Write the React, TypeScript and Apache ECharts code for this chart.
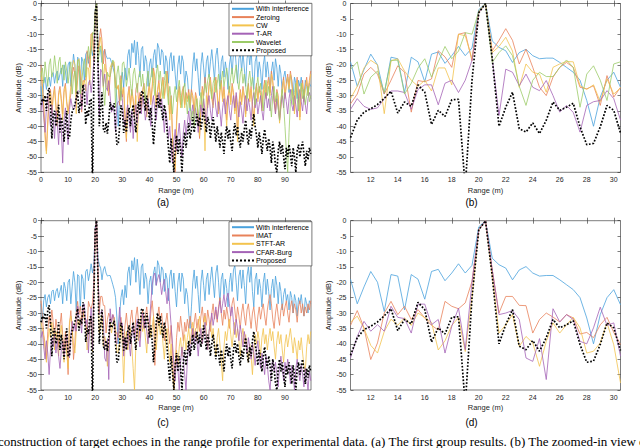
import React, { useEffect, useRef } from "react";
import * as echarts from "echarts";

// x sampling (m)
const STEP = 0.5;
const PRE_START = 0;
const ZOOM_START = 10.5;
const POST_START = 31;

// ---------- With interference (shared by (a)-(d)) ----------
const interfPre = [-27, -33, -26, -24, -28, -25, -24, -27, -23, -22.5, -26, -23, -22, -25, -23, -21, -27, -20, -22, -26, -20];
const interfZoom = [
  -19, -27, -21.5, -16.5, -20, -29.5, -17.5, -18, -29, -17.5, -19, -25.5, -16.5, -15.8, -19.5, -17, -14, -17, -14.5, -2, 0,
  -12.2, -14.3, -15.4, -19.2, -16, -14.9, -17, -18, -17.8, -17.8, -19.2, -20.8, -22.4, -25, -31.6, -40, -30.5, -25, -22.4, -27.3,
];
const interfPost = [
  -21, -25, -17, -15, -21, -13, -16, -12, -20, -12.5,
  -17, -24, -15, -14, -22, -17, -19, -27, -20, -18,
  -24, -17, -15, -21, -13, -14.5, -20, -15, -16, -23,
  -17, -19, -26, -18, -16, -22, -17, -23, -28, -20,
  -17, -23, -17, -19, -27, -22, -24, -30, -35, -28,
  -20, -16, -22, -18, -24, -30, -20, -16, -21, -26,
  -19, -17, -24, -19, -15, -20, -25, -17, -14.5, -20,
  -27, -19, -17, -24, -19, -22, -28, -20, -17, -23,
  -16, -14.5, -20, -26, -18, -16, -22, -16, -21, -27,
  -18, -15, -20, -15, -23, -28, -19, -17, -24, -19,
  -22, -28, -20, -17, -24, -19, -23, -29, -22, -19,
  -25, -18, -21, -27, -20, -23, -29, -24, -22, -26,
  -24, -29, -23, -25, -30, -24, -26, -31, -25, -27,
  -24, -28, -31, -25, -27, -30, -26, -27,
];

// ---------- Proposed (shared) ----------
const proposedPre = [-33, -31, -32, -30, -35, -29, -27.5, -33, -44, -36, -35, -40, -38, -33, -42, -37, -40, -45, -39, -35, -44];
const proposedZoom = [
  -43.7, -38, -35.4, -34.3, -32.9, -30.9, -28.6, -35.7, -32.1, -33.5, -26.5, -28.9, -39.4, -34.8, -36.8, -31.4, -31.2, -60, -25, -3, 0,
  -18, -40, -33.8, -28.9, -40.8, -41.9, -38.9, -42.4, -38, -32.1, -34.8, -33.8, -32.5, -40.2, -46, -45.6, -40.2, -33.2, -34.8, -42.2,
];
const proposedPost = [
  -38, -42, -36, -34, -40, -36, -33, -38, -42, -35,
  -32, -36, -29, -28.5, -31, -35, -30, -33, -38, -34,
  -39, -46, -40, -33, -30, -34, -31, -35, -38, -33,
  -36, -41, -47, -52, -44, -49, -55, -47, -43, -49,
  -44, -48, -55, -46, -42, -47, -43, -39, -44, -41,
  -37, -42, -39, -36, -40, -37, -41, -38, -34, -38,
  -42, -37, -39, -44, -40, -37, -41, -45, -40, -43,
  -47, -42, -45, -49, -43, -40, -44, -41, -45, -48,
  -42, -39, -43, -40, -44, -47, -42, -45, -41, -38,
  -43, -46, -41, -44, -39, -36, -40, -43, -47, -42,
  -45, -49, -44, -41, -45, -48, -44, -47, -52, -45,
  -48, -53, -55, -48, -45, -49, -46, -50, -54, -47,
  -50, -46, -49, -53, -47, -50, -55, -48, -46, -50,
  -47, -45, -49, -53, -48, -51, -47, -49,
];

// ---------- Zeroing ----------
const zeroingPre = [-20, -26, -33, -42, -48, -38, -30, -28, -35, -30, -27, -33, -38, -29, -27, -31, -36, -28, -26, -32, -35];
const zeroingZoom = [
  -32.7, -29.5, -23, -20.8, -23, -29.5, -25, -20.3, -22.4, -35.4, -25.1, -25.5, -24.6, -15.4, -17.4, -20.8, -10, -9.5, -18.7, -2.5, 0,
  -15.4, -12, -8.2, -12, -19.7, -14.9, -20.8, -27.3, -30, -24, -20.8, -19.2, -20.8, -27.3, -27.8, -26.8, -33.2, -23.5, -30.5, -27.3,
];
const zeroingPost = [
  -38, -45, -30, -27, -33, -28, -31, -36, -28, -26,
  -32, -29, -34, -28, -26, -31, -36, -29, -26, -32,
  -27, -21, -24, -33, -28, -25, -31, -27, -24, -30,
  -26, -22, -29, -36, -30, -42, -50, -55, -38, -30,
  -27, -33, -29, -27, -33, -29, -31, -28, -33, -28,
  -30, -35, -29, -31, -38, -44, -33, -27, -30, -24,
  -28, -33, -26, -24, -30, -33, -27, -24, -29, -35,
  -28, -25, -31, -27, -33, -38, -30, -27, -32, -26,
  -29, -35, -30, -42, -33, -28, -32, -27, -30, -36,
  -29, -26, -31, -27, -33, -38, -29, -26, -31, -27,
  -29, -34, -28, -25, -30, -26, -24, -29, -22, -25,
  -31, -35, -28, -30, -38, -33, -27, -24, -30, -26,
  -23, -27, -22, -25, -30, -35, -27, -24, -29, -37,
  -28, -25, -31, -27, -24, -29, -25, -22,
];

// ---------- CW ----------
const cwPre = [-22, -27, -34, -44, -49, -40, -31, -29, -36, -31, -28, -34, -40, -30, -28, -32, -38, -29, -27, -33, -36];
const cwZoom = [
  -31, -27, -21, -18.5, -20, -35.9, -18.7, -18, -22, -25, -27, -25, -28.5, -21, -21, -26.5, -10, -10.5, -18, -3, 0,
  -16, -14, -11, -15.5, -27.3, -19.7, -22.4, -23, -28.9, -20.8, -19.7, -18.9, -19, -26.8, -28, -26.5, -32, -24.6, -29.5, -27.5,
];
const cwPost = [
  -36, -44, -31, -28, -34, -29, -32, -38, -30, -45,
  -33, -30, -35, -29, -27, -32, -37, -30, -27, -33,
  -28, -22, -25, -34, -29, -26, -32, -28, -25, -31,
  -27, -23, -30, -38, -31, -44, -52, -54, -40, -31,
  -28, -34, -30, -28, -34, -30, -32, -29, -34, -29,
  -31, -36, -30, -32, -39, -43, -34, -28, -33, -48,
  -30, -34, -27, -25, -31, -34, -28, -25, -30, -36,
  -29, -26, -32, -28, -34, -40, -31, -28, -33, -27,
  -30, -36, -31, -45, -34, -29, -33, -28, -31, -37,
  -30, -27, -32, -28, -34, -40, -30, -27, -32, -28,
  -30, -35, -29, -26, -31, -27, -25, -30, -23, -26,
  -32, -36, -29, -31, -39, -34, -28, -25, -31, -27,
  -24, -28, -23, -26, -31, -36, -28, -25, -30, -38,
  -29, -26, -32, -28, -25, -30, -26, -23,
];

// ---------- T-AR ----------
const tarPre = [-35, -31, -37, -42, -34, -30, -36, -40, -33, -38, -44, -35, -39, -46, -36, -41, -52, -38, -34, -40, -46];
const tarZoom = [
  -34.5, -31, -33.5, -34.5, -34, -31, -28.5, -28.5, -29, -34.5, -28, -26.5, -26.5, -33, -26, -25, -29, -25, -18.5, -3, 0,
  -18, -36.5, -21.4, -22.4, -26.8, -23, -27.3, -28.4, -25.1, -30, -35.4, -33.2, -35.5, -41.9, -33.2, -32, -31.6, -28.4, -31, -38,
];
const tarPost = [
  -40, -36, -33, -38, -42, -35, -44, -37, -33, -39,
  -34, -31, -36, -30, -33, -38, -35, -31, -36, -40,
  -33, -30, -35, -38, -32, -29, -34, -31, -36, -42,
  -35, -38, -44, -40, -47, -52, -45, -41, -48, -43,
  -39, -45, -50, -42, -38, -43, -39, -35, -40, -36,
  -33, -38, -34, -37, -42, -36, -33, -37, -31, -35,
  -39, -33, -30, -35, -38, -32, -29, -34, -37, -32,
  -35, -40, -34, -31, -36, -32, -30, -35, -38, -33,
  -30, -34, -29, -33, -37, -32, -35, -39, -33, -30,
  -35, -31, -34, -38, -32, -29, -34, -31, -36, -33,
  -30, -35, -38, -32, -29, -34, -31, -35, -30, -27,
  -32, -36, -31, -34, -38, -33, -30, -34, -29, -32,
  -36, -31, -28, -33, -35, -30, -33, -37, -31, -28,
  -32, -35, -30, -33, -36, -31, -29, -31,
];

// ---------- Wavelet ----------
const waveletPre = [-24, -21, -26, -19, -23, -27, -20, -18, -24, -22, -17, -21, -26, -19, -17.5, -23, -20, -25, -19, -22, -26];
const waveletZoom = [
  -21.5, -19, -29.5, -24, -22, -29, -18.5, -18.5, -29.5, -26, -21, -18, -24, -19, -14, -18, -15.5, -9.5, -10, -2.5, 0,
  -19.2, -16, -13.8, -17, -27, -33.2, -25, -22.4, -23.8, -23.8, -20.8, -18.4, -20.8, -33.8, -23, -20.3, -25, -31.6, -19.7, -19,
];
const waveletPost = [
  -22, -27, -24, -21, -26, -30, -23, -21, -25, -29,
  -24, -22, -27, -23, -28, -32, -25, -22, -27, -24,
  -21, -26, -30, -23, -20, -25, -22, -27, -31, -25,
  -22, -28, -33, -27, -31, -36, -30, -27, -32, -28,
  -25, -30, -34, -28, -26, -31, -36, -30, -33, -38,
  -35, -40, -34, -31, -37, -33, -29, -34, -30, -26,
  -29, -25, -23, -28, -31, -26, -24, -29, -26, -23,
  -28, -25, -22, -27, -24, -21, -25, -29, -24, -21,
  -26, -23, -20, -25, -28, -23, -21, -26, -23, -27,
  -31, -25, -22, -27, -24, -29, -33, -27, -24, -29,
  -26, -31, -35, -28, -25, -30, -27, -32, -37, -30,
  -27, -32, -29, -34, -38, -31, -28, -33, -40, -48,
  -55, -42, -32, -28, -33, -29, -26, -31, -35, -29,
  -26, -31, -28, -33, -30, -27, -32, -30,
];

// ---------- IMAT ----------
const imatPre = [-26, -31, -37, -40, -45, -36, -31, -34, -29, -33, -38, -32, -35, -41, -34, -30, -37, -43, -36, -40, -50];
const imatZoom = [
  -34, -29.2, -34.8, -45.1, -39.7, -30, -26.2, -30.5, -27.8, -32.1, -28.9, -31.6, -34, -35.5, -26.2, -27.8, -28.6, -26.7, -19.7, -3, 0,
  -16, -30, -24.6, -24.6, -27.5, -27.6, -36.5, -32.1, -30, -31.3, -32.9, -30.5, -31.6, -36.8, -36.3, -38, -33.8, -31.4, -36.3, -40.2,
];
const imatPost = [
  -34, -30, -35, -39, -32, -29, -34, -37, -31, -28,
  -33, -38, -32, -29, -34, -31, -28, -33, -37, -30,
  -26, -31, -47, -36, -31, -28, -33, -30, -35, -39,
  -33, -30, -35, -40, -34, -42, -55, -48, -38, -33,
  -36, -31, -35, -39, -33, -36, -32, -35, -31, -34,
  -38, -33, -30, -35, -32, -36, -31, -28, -33, -30,
  -34, -29, -32, -36, -30, -27, -32, -29, -33, -28,
  -25, -30, -34, -29, -32, -28, -31, -35, -30, -27,
  -25, -29, -33, -28, -31, -35, -30, -27, -31, -34,
  -29, -27, -31, -35, -30, -28, -32, -36, -31, -28,
  -32, -29, -27, -31, -34, -29, -26, -24, -27, -32,
  -35, -30, -27, -31, -34, -29, -27, -31, -28, -26,
  -30, -33, -28, -26, -30, -27, -29, -33, -28, -26,
  -30, -27, -31, -28, -30, -27, -29, -26,
];

// ---------- STFT-AR ----------
const stftPre = [-33, -35, -38, -42, -46, -40, -35, -38, -33, -37, -42, -36, -39, -44, -37, -34, -40, -46, -39, -43, -48];
const stftZoom = [
  -33, -31, -35, -40.5, -43, -36, -32, -34, -31.5, -34, -30, -31.5, -33, -42, -39, -34, -31.5, -42.5, -25, -3, 0,
  -18, -36.5, -33.8, -30.5, -40.8, -37.6, -39.7, -47.3, -39.2, -33.2, -36.5, -33.8, -31.4, -34.8, -43, -42.4, -39.7, -33.2, -40.3, -52.7,
];
const stftPost = [
  -40, -36, -42, -38, -35, -41, -48, -55, -40, -35,
  -39, -34, -31, -36, -33, -38, -43, -36, -33, -38,
  -35, -31, -37, -42, -36, -32, -37, -34, -40, -45,
  -38, -35, -41, -46, -40, -50, -55, -46, -42, -47,
  -41, -38, -44, -40, -37, -42, -38, -35, -40, -36,
  -33, -38, -35, -39, -34, -31, -36, -40, -34, -31,
  -37, -42, -36, -33, -38, -35, -40, -44, -38, -35,
  -40, -46, -52, -41, -36, -39, -35, -32, -37, -41,
  -36, -33, -38, -35, -39, -44, -38, -35, -40, -37,
  -42, -46, -40, -44, -50, -42, -37, -40, -36, -39,
  -44, -38, -35, -40, -37, -42, -38, -35, -39, -36,
  -41, -45, -39, -36, -40, -37, -42, -46, -40, -37,
  -41, -38, -35, -39, -43, -38, -41, -45, -39, -42,
  -38, -43, -47, -49, -41, -37, -40, -36,
];

// ---------- CFAR-Burg ----------
const cfarPre = [-38, -36, -41, -45, -39, -43, -50, -42, -38, -41, -37, -43, -39, -44, -48, -42, -39, -44, -40, -37, -42];
const cfarZoom = [
  -44.6, -37.6, -32.7, -35.9, -33.8, -35.9, -27.8, -31.4, -31.8, -36.5, -27.1, -27.1, -33.8, -32.1, -43, -34.3, -28.4, -41.9, -20, -3, 0,
  -16, -30.5, -30, -29.2, -32.1, -44.6, -45.7, -38.3, -51.6, -28.6, -32.9, -30.5, -32.1, -39.2, -40, -34.8, -28.1, -34, -33.2, -44,
];
const cfarPost = [
  -38, -42, -36, -40, -44, -37, -34, -39, -35, -32,
  -37, -41, -34, -30, -35, -32, -36, -40, -33, -27,
  -21, -18, -17, -21, -19, -17.5, -20, -24, -21, -19,
  -23, -27, -22, -28, -34, -40, -46, -52, -44, -48,
  -55, -46, -41, -45, -50, -55, -45, -40, -44, -38,
  -35, -40, -36, -39, -44, -38, -35, -40, -37, -33,
  -38, -42, -36, -33, -30, -34, -31, -28, -32, -29,
  -26, -30, -27, -24, -28, -25, -23.5, -27, -31, -28,
  -33, -37, -32, -35, -39, -34, -37, -41, -36, -39,
  -43, -38, -41, -45, -40, -43, -47, -42, -39, -44,
  -48, -43, -46, -50, -44, -47, -52, -55, -48, -45,
  -49, -46, -50, -54, -47, -44, -48, -52, -46, -49,
  -45, -48, -53, -47, -50, -55, -48, -45, -49, -52,
  -47, -50, -54, -48, -51, -55, -49, -52,
];

// tick values
const fullXTicks = [0, 10, 20, 30, 40, 50, 60, 70, 80, 90];
const zoomXTicks = [12, 14, 16, 18, 20, 22, 24, 26, 28, 30];

const legendTop = ["With interference", "Zeroing", "CW", "T-AR", "Wavelet", "Proposed"];
const legendBottom = ["With interference", "IMAT", "STFT-AR", "CFAR-Burg", "Proposed"];

const STYLE: Record<string, { color: string; width: number; type: string }> = {
  "With interference": { color: "#4aa2dd", width: 0.8, type: "solid" },
  Zeroing: { color: "#e8825a", width: 0.8, type: "solid" },
  CW: { color: "#f3c34e", width: 0.8, type: "solid" },
  "T-AR": { color: "#a463b6", width: 0.8, type: "solid" },
  Wavelet: { color: "#9ccb68", width: 0.8, type: "solid" },
  IMAT: { color: "#e8825a", width: 0.8, type: "solid" },
  "STFT-AR": { color: "#f3c34e", width: 0.8, type: "solid" },
  "CFAR-Burg": { color: "#a463b6", width: 0.8, type: "solid" },
  Proposed: { color: "#000000", width: 1.7, type: "dotted" },
};

const seg = (start: number, vals: number[]) => vals.map((v, i) => [start + i * STEP, v]);
const full = (pre: number[], zoom: number[], post: number[]) => [
  ...seg(PRE_START, pre),
  ...seg(ZOOM_START, zoom),
  ...seg(POST_START, post),
];

const FONT = "Liberation Sans, Arial, sans-serif";
const AX = "#262626";

function buildOption() {
  const grids = [
    { left: 41, top: 2.3, width: 270, height: 170 },
    { left: 350.5, top: 2.3, width: 270, height: 170 },
    { left: 41, top: 220.7, width: 270, height: 169.3 },
    { left: 350.5, top: 220.7, width: 270, height: 169.3 },
  ].map((g) => ({ ...g, show: true, borderColor: AX, borderWidth: 0.6, backgroundColor: "transparent", containLabel: false }));

  const xDefs = [
    { min: 0, max: 99.6, ticks: fullXTicks, gap: 14 },
    { min: 10.5, max: 30.5, ticks: zoomXTicks, gap: 14 },
    { min: 0, max: 99.6, ticks: fullXTicks, gap: 13 },
    { min: 10.5, max: 30.5, ticks: zoomXTicks, gap: 13 },
  ];
  const xAxis: any[] = [];
  xDefs.forEach((d, i) => {
    xAxis.push({
      type: "value",
      gridIndex: i,
      min: d.min,
      max: d.max,
      position: "bottom",
      name: "Range (m)",
      nameLocation: "middle",
      nameGap: d.gap,
      nameTextStyle: { fontSize: 7.5, color: AX, fontFamily: FONT },
      axisLine: { show: false },
      axisTick: { show: true, inside: true, length: 3, customValues: d.ticks, lineStyle: { color: AX, width: 0.6 } },
      axisLabel: { customValues: d.ticks, fontSize: 7, color: AX, fontFamily: FONT, margin: 4 },
      splitLine: { show: false },
    });
  });
  xDefs.forEach((d, i) => {
    xAxis.push({
      type: "value",
      gridIndex: i,
      min: d.min,
      max: d.max,
      position: "top",
      axisLine: { show: false },
      axisTick: { show: true, inside: true, length: 3, customValues: d.ticks, lineStyle: { color: AX, width: 0.6 } },
      axisLabel: { show: false },
      splitLine: { show: false },
    });
  });

  const yAxis: any[] = [];
  for (let i = 0; i < 4; i++) {
    yAxis.push({
      type: "value",
      gridIndex: i,
      min: -55,
      max: 0,
      interval: 5,
      position: "left",
      name: "Amplitude (dB)",
      nameLocation: "middle",
      nameGap: 14,
      nameTextStyle: { fontSize: 7.5, color: AX, fontFamily: FONT },
      axisLine: { show: false },
      axisTick: { show: true, inside: true, length: 3, lineStyle: { color: AX, width: 0.6 } },
      axisLabel: { fontSize: 7, color: AX, fontFamily: FONT, margin: 4 },
      splitLine: { show: false },
    });
  }
  for (let i = 0; i < 4; i++) {
    yAxis.push({
      type: "value",
      gridIndex: i,
      min: -55,
      max: 0,
      interval: 5,
      position: "right",
      axisLine: { show: false },
      axisTick: { show: true, inside: true, length: 3, lineStyle: { color: AX, width: 0.6 } },
      axisLabel: { show: false },
      splitLine: { show: false },
    });
  }

  const mk = (name: string, idx: number, data: number[][]) => {
    const s = STYLE[name];
    return {
      type: "line",
      name,
      xAxisIndex: idx,
      yAxisIndex: idx,
      data,
      symbol: "none",
      showSymbol: false,
      clip: true,
      color: s.color,
      z: name === "Proposed" ? 5 : 2,
      lineStyle: { color: s.color, width: s.width, type: s.type },
      itemStyle: { color: s.color },
      emphasis: { disabled: true },
    };
  };

  const series = [
    mk("With interference", 0, full(interfPre, interfZoom, interfPost)),
    mk("Zeroing", 0, full(zeroingPre, zeroingZoom, zeroingPost)),
    mk("CW", 0, full(cwPre, cwZoom, cwPost)),
    mk("T-AR", 0, full(tarPre, tarZoom, tarPost)),
    mk("Wavelet", 0, full(waveletPre, waveletZoom, waveletPost)),
    mk("Proposed", 0, full(proposedPre, proposedZoom, proposedPost)),

    mk("With interference", 1, seg(ZOOM_START, interfZoom)),
    mk("Zeroing", 1, seg(ZOOM_START, zeroingZoom)),
    mk("CW", 1, seg(ZOOM_START, cwZoom)),
    mk("T-AR", 1, seg(ZOOM_START, tarZoom)),
    mk("Wavelet", 1, seg(ZOOM_START, waveletZoom)),
    mk("Proposed", 1, seg(ZOOM_START, proposedZoom)),

    mk("With interference", 2, full(interfPre, interfZoom, interfPost)),
    mk("IMAT", 2, full(imatPre, imatZoom, imatPost)),
    mk("STFT-AR", 2, full(stftPre, stftZoom, stftPost)),
    mk("CFAR-Burg", 2, full(cfarPre, cfarZoom, cfarPost)),
    mk("Proposed", 2, full(proposedPre, proposedZoom, proposedPost)),

    mk("With interference", 3, seg(ZOOM_START, interfZoom)),
    mk("IMAT", 3, seg(ZOOM_START, imatZoom)),
    mk("STFT-AR", 3, seg(ZOOM_START, stftZoom)),
    mk("CFAR-Burg", 3, seg(ZOOM_START, cfarZoom)),
    mk("Proposed", 3, seg(ZOOM_START, proposedZoom)),
  ];

  const legendBase = {
    orient: "vertical",
    itemWidth: 22,
    itemHeight: 8,
    itemGap: 1.3,
    padding: [2, 3, 2, 2],
    borderColor: AX,
    borderWidth: 0.6,
    backgroundColor: "#ffffff",
    selectedMode: false,
    itemStyle: { opacity: 0 },
    textStyle: { fontSize: 7, color: "#000", fontFamily: FONT, padding: [0, 0, 0, -3] },
  };

  const cap = (t: string, x: number, y: number) => ({
    type: "text",
    x,
    y,
    style: { text: t, align: "center", verticalAlign: "middle", fontSize: 10, fontFamily: FONT, fill: "#000" },
  });

  return {
    animation: false,
    backgroundColor: "#ffffff",
    grid: grids,
    xAxis,
    yAxis,
    legend: [
      { ...legendBase, data: legendTop, left: 229, top: 3.3 },
      { ...legendBase, data: legendBottom, left: 229, top: 221.7 },
    ],
    series,
    graphic: [
      cap("(a)", 163, 202),
      cap("(b)", 471.5, 202),
      cap("(c)", 163, 422),
      cap("(d)", 471.5, 422),
      {
        type: "text",
        x: -2,
        y: 441,
        style: {
          text: "construction of target echoes in the range profile for experimental data. (a) The first group results. (b) The zoomed-in view o",
          verticalAlign: "middle",
          fontSize: 13,
          fontFamily: "Liberation Serif, Times New Roman, serif",
          fill: "#000",
        },
      },
    ],
  };
}

export default function App() {
  const ref = useRef<HTMLDivElement>(null);
  useEffect(() => {
    if (!ref.current) return;
    const chart = echarts.init(ref.current, null, { renderer: "svg" });
    chart.setOption(buildOption() as any);
    return () => chart.dispose();
  }, []);
  return (
    <div
      ref={ref}
      style={{ position: "absolute", left: 0, top: 0, width: 640, height: 448, background: "#fff" }}
    />
  );
}
